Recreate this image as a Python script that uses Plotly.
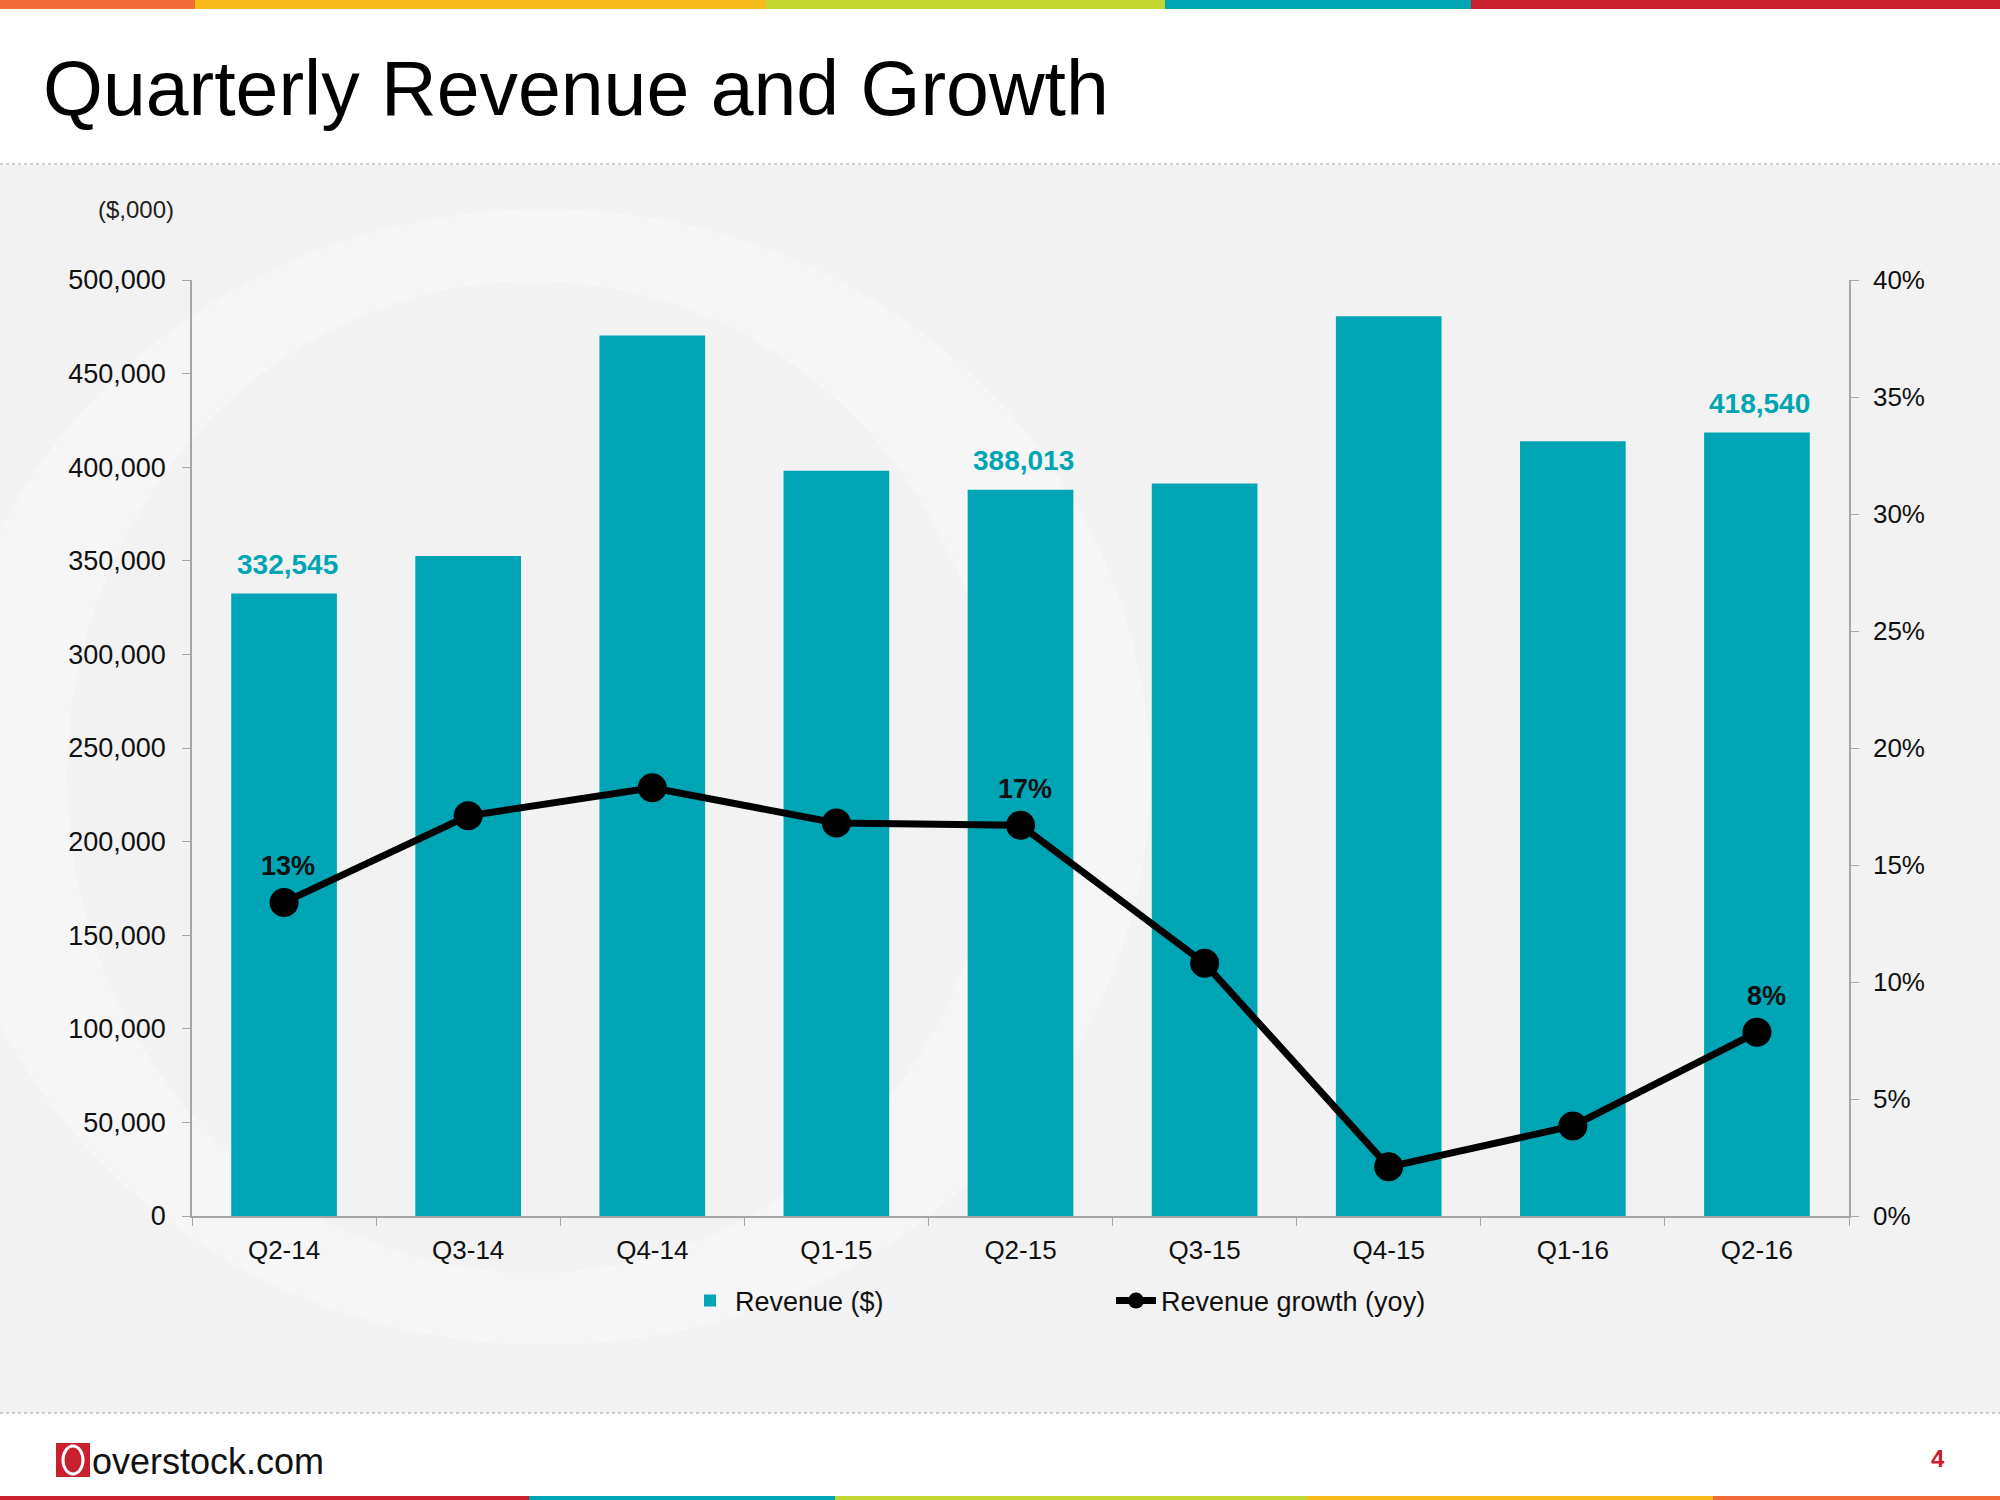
import plotly.graph_objects as go

# ---------------- data ----------------
quarters = ["Q2-14", "Q3-14", "Q4-14", "Q1-15", "Q2-15", "Q3-15", "Q4-15", "Q1-16", "Q2-16"]
revenue = [332545, 352600, 470300, 398100, 388013, 391300, 480600, 413800, 418540]
growth = [0.134, 0.171, 0.183, 0.168, 0.167, 0.108, 0.021, 0.0385, 0.0785]
revenue_labels = ["332,545", "", "", "", "388,013", "", "", "", "418,540"]
growth_labels = ["13%", "", "", "", "17%", "", "", "", "8%"]

TEAL = "#00A5B5"
FONT = "Liberation Sans, Arial, sans-serif"

# plot area in pixels
L, R, T, B = 192, 1849, 280, 1216
W, H = 2000, 1500


def px(xp):
    return (xp - L) / (R - L)


def py(yp):
    return (B - yp) / (B - T)


fig = go.Figure()
fig.add_trace(go.Bar(
    x=quarters, y=revenue, name="Revenue ($)",
    marker=dict(color=TEAL, line=dict(width=0)), width=0.574,
    yaxis="y", hoverinfo="x+y"))
fig.add_trace(go.Scatter(
    x=quarters, y=growth, name="Revenue growth (yoy)", mode="lines+markers",
    line=dict(color="black", width=7), marker=dict(color="black", size=29),
    yaxis="y2"))

annotations = []
for q, v, lab in zip(quarters, revenue, revenue_labels):
    if lab:
        annotations.append(dict(x=q, y=v, xref="x", yref="y", text=lab, showarrow=False,
                                yshift=29, xshift=3,
                                font=dict(family=FONT, size=28, color=TEAL, weight="bold")))
for i, (q, g, lab) in enumerate(zip(quarters, growth, growth_labels)):
    if lab:
        annotations.append(dict(x=q, y=g, xref="x", yref="y2", text=lab, showarrow=False,
                                yshift=36, xshift=10 if i == len(quarters) - 1 else 4,
                                font=dict(family=FONT, size=27, color="#111111", weight="bold")))

# title, unit label, footer text
annotations.append(dict(x=px(41), y=py(88), xref="paper", yref="paper", xanchor="left", yanchor="middle",
                        text="Quarterly Revenue and Growth", showarrow=False,
                        font=dict(family=FONT, size=77, color="black")))
annotations.append(dict(x=px(176), y=py(209), xref="paper", yref="paper", xanchor="right", yanchor="middle",
                        text="($,000)", showarrow=False, font=dict(family=FONT, size=24, color="#222222")))
annotations.append(dict(x=px(90), y=py(1461), xref="paper", yref="paper", xanchor="left", yanchor="middle",
                        text="overstock.com", showarrow=False, font=dict(family=FONT, size=36, color="#111111")))
annotations.append(dict(x=px(1938), y=py(1458), xref="paper", yref="paper", xanchor="center", yanchor="middle",
                        text="4", showarrow=False, font=dict(family=FONT, size=24, color="#C8202F", weight="bold")))

shapes = []


def rect(x0, y0, x1, y1, color, layer="below"):
    shapes.append(dict(type="rect", xref="paper", yref="paper", x0=px(x0), x1=px(x1), y0=py(y0), y1=py(y1),
                       fillcolor=color, line=dict(width=0), layer=layer))


# backgrounds
rect(0, 0, W, 165, "white")
rect(0, 165, W, 1413, "#F2F2F2")
rect(0, 1413, W, H, "white")
# watermark swoosh
shapes.append(dict(type="circle", xref="paper", yref="paper", x0=px(-60), x1=px(1150), y0=py(209), y1=py(1345),
                   fillcolor="#F6F6F6", line=dict(width=0), layer="below"))
shapes.append(dict(type="circle", xref="paper", yref="paper", x0=px(67), x1=px(1000), y0=py(281), y1=py(1273),
                   fillcolor="#F2F2F2", line=dict(width=0), layer="below"))
# top stripe
for x0, x1, c in [(0, 195, "#F26B3A"), (195, 766, "#F6BA1B"), (766, 1165, "#C1D631"),
                  (1165, 1471, "#00A5B5"), (1471, W, "#C8202F")]:
    rect(x0, 0, x1, 9, c)
# bottom stripe
for x0, x1, c in [(0, 529, "#C8202F"), (529, 835, "#00A5B5"), (835, 1307, "#C1D631"),
                  (1307, 1713, "#F6BA1B"), (1713, W, "#F26B3A")]:
    rect(x0, 1496, x1, H, c)
# dotted separators
for yy in (164, 1413):
    shapes.append(dict(type="line", xref="paper", yref="paper", x0=px(0), x1=px(W), y0=py(yy), y1=py(yy),
                       line=dict(color="#C0C0C0", width=1.5, dash="dot"), layer="below"))
# logo mark
rect(56, 1443, 90, 1477, "#C8202F")
shapes.append(dict(type="circle", xref="paper", yref="paper", x0=px(63), x1=px(83), y0=py(1446), y1=py(1474),
                   fillcolor="rgba(0,0,0,0)", line=dict(color="white", width=3), layer="below"))

fig.update_layout(
    width=W, height=H,
    margin=dict(l=L, r=W - R, t=T, b=H - B, pad=0),
    paper_bgcolor="white", plot_bgcolor="rgba(0,0,0,0)",
    font=dict(family=FONT, size=27, color="#111111"),
    bargap=0.426,
    showlegend=True,
    legend=dict(orientation="h", x=px(685), xanchor="left", y=py(1301), yanchor="middle",
                bgcolor="rgba(0,0,0,0)", font=dict(family=FONT, size=27, color="#111111"),
                entrywidth=371, entrywidthmode="pixels", itemwidth=40),
    xaxis=dict(type="category", range=[-0.5, len(quarters) - 0.5], showgrid=False, showline=True,
               linecolor="#A6A6A6", linewidth=1.5,
               ticks="outside", ticklen=8, tickcolor="#A6A6A6", tickson="boundaries",
               tickfont=dict(family=FONT, size=26, color="#111111"), ticklabelstandoff=10, zeroline=False),
    yaxis=dict(range=[0, 500000], dtick=50000, tickformat=",", showgrid=False, zeroline=False,
               showline=True, linecolor="#A6A6A6", linewidth=1.5, ticks="outside", ticklen=8,
               tickcolor="#A6A6A6", tickfont=dict(family=FONT, size=27, color="#111111"),
               ticklabelstandoff=11),
    yaxis2=dict(range=[0, 0.40], dtick=0.05, tickformat=".0%", overlaying="y", side="right",
                showgrid=False, zeroline=False, showline=True, linecolor="#A6A6A6", linewidth=1.5,
                ticks="outside", ticklen=8, tickcolor="#A6A6A6",
                tickfont=dict(family=FONT, size=26, color="#111111"), ticklabelstandoff=9),
    annotations=annotations,
    shapes=shapes,
)

fig.write_html("out.html")
